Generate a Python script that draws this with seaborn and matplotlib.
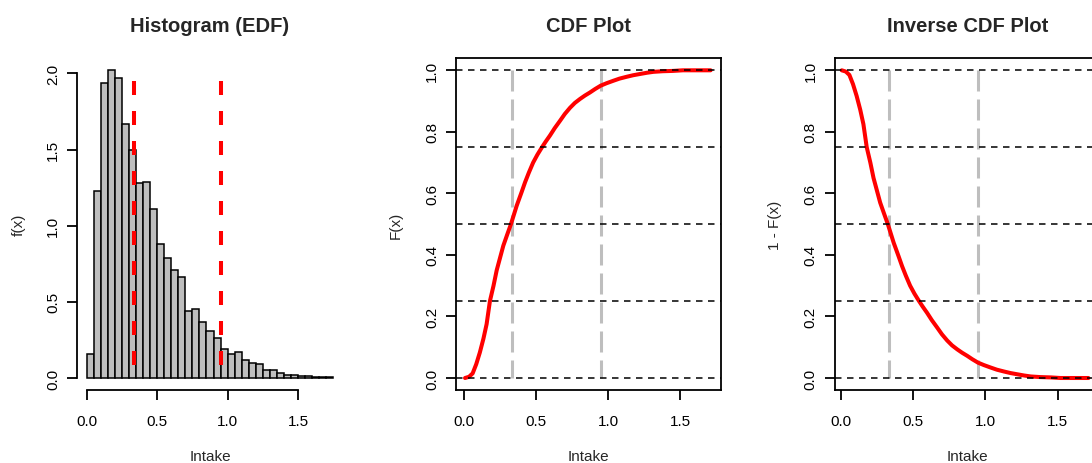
import numpy as np
import pandas as pd
import matplotlib
matplotlib.use("Agg")
import matplotlib.pyplot as plt
import seaborn as sns

# ---- data -------------------------------------------------------------
# density histogram of intake, bins of width 0.05 starting at 0
bin_start = 0.0
bin_width = 0.05
density = [0.16, 1.23, 1.94, 2.02, 1.97, 1.67, 1.50, 1.28, 1.29, 1.11,
           0.88, 0.79, 0.71, 0.66, 0.44, 0.45, 0.37, 0.31, 0.26, 0.19,
           0.16, 0.17, 0.12, 0.10, 0.09, 0.05, 0.05, 0.03, 0.02, 0.02,
           0.01, 0.01, 0.005, 0.004, 0.004]

# empirical cumulative distribution of intake
cdf_x = [0.007, 0.035, 0.06, 0.085, 0.11, 0.135, 0.157, 0.18, 0.205, 0.227,
         0.25, 0.273, 0.30, 0.326, 0.366, 0.40, 0.424, 0.45, 0.48, 0.51,
         0.539, 0.567, 0.597, 0.63, 0.667, 0.70, 0.736, 0.77, 0.806, 0.84,
         0.875, 0.91, 0.949, 0.99, 1.037, 1.08, 1.13, 1.175, 1.222, 1.27,
         1.315, 1.38, 1.45, 1.52, 1.60, 1.713]
cdf_y = [0.000, 0.004, 0.015, 0.045, 0.083, 0.128, 0.175, 0.25, 0.30, 0.35,
         0.39, 0.43, 0.466, 0.50, 0.56, 0.604, 0.636, 0.667, 0.70, 0.726,
         0.748, 0.768, 0.788, 0.812, 0.836, 0.858, 0.878, 0.894, 0.907, 0.918,
         0.928, 0.939, 0.95, 0.958, 0.966, 0.973, 0.979, 0.984, 0.988, 0.992,
         0.995, 0.997, 0.998, 1.0, 1.0, 1.0]

# reference quantiles of intake
median_intake = 0.335
p95_intake = 0.95
prob_levels = [0.0, 0.25, 0.5, 0.75, 1.0]

x_ticks = [0.0, 0.5, 1.0, 1.5]
x_tick_labels = ["0.0", "0.5", "1.0", "1.5"]
hist_y_ticks = [0.0, 0.5, 1.0, 1.5, 2.0]
hist_y_labels = ["0.0", "0.5", "1.0", "1.5", "2.0"]
prob_ticks = [0.0, 0.2, 0.4, 0.6, 0.8, 1.0]
prob_tick_labels = ["0.0", "0.2", "0.4", "0.6", "0.8", "1.0"]

# ---- style ------------------------------------------------------------
sns.set_theme(style="ticks")
plt.rcParams["font.family"] = ["Liberation Sans", "DejaVu Sans"]
plt.rcParams["lines.scale_dashes"] = False
plt.rcParams["axes.linewidth"] = 1.3

PX = 72 / 100  # points per pixel at 100 dpi
GREY = "#BEBEBE"

fig = plt.figure(figsize=(10.92, 4.64), dpi=100)
bottom = 73 / 464
height = 332 / 464
ax1 = fig.add_axes([77 / 1092, bottom, 266 / 1092, height])
ax2 = fig.add_axes([456 / 1092, bottom, 265 / 1092, height])
ax3 = fig.add_axes([834.7 / 1092, bottom, 265 / 1092, height])


def style_axes(ax, yticks, ylabels, ylabel, ylabel_x, title):
    ax.set_xticks(x_ticks, x_tick_labels)
    ax.set_yticks(yticks, ylabels, rotation=90, va="center")
    ax.tick_params(axis="both", direction="out", length=10 * PX, width=1.3,
                   color="black", labelsize=11, labelcolor="black")
    ax.tick_params(axis="x", pad=14 * PX)
    ax.tick_params(axis="y", pad=7 * PX)
    ax.set_xlabel("Intake", fontsize=11, va="center")
    ax.xaxis.set_label_coords(0.5, -0.198)
    ax.set_ylabel(ylabel, fontsize=11, va="center")
    ax.yaxis.set_label_coords(ylabel_x, 0.5)
    ax.set_title(title, fontsize=14.5, fontweight="bold", pad=27 * PX)
    for s in ax.spines.values():
        s.set_color("black")
        s.set_linewidth(1.3)


# ---- panel 1: histogram ----------------------------------------------
n_bins = len(density)
hist_df = pd.DataFrame({
    "intake": bin_start + bin_width * (np.arange(n_bins) + 0.5),
    "density": density,
})
sns.histplot(data=hist_df, x="intake", weights="density", stat="count",
             binwidth=bin_width, binrange=(bin_start, bin_start + n_bins * bin_width),
             color=GREY, edgecolor="black", linewidth=1.1, alpha=1.0, ax=ax1)
for q in (median_intake, p95_intake):
    ax1.plot([q, q], [1.95, 0.0], color="red", lw=2.9,
             dashes=(14 * PX, 16 * PX), solid_capstyle="butt",
             dash_capstyle="butt", zorder=4)
ax1.set_xlim(-0.07, 1.82)
ax1.set_ylim(-0.079, 2.101)
style_axes(ax1, hist_y_ticks, hist_y_labels, "f(x)", -0.218, "Histogram (EDF)")
ax1.spines["top"].set_visible(False)
ax1.spines["right"].set_visible(False)
ax1.spines["left"].set_bounds(0, 2)
ax1.spines["bottom"].set_bounds(0, 1.5)

# ---- panels 2 and 3: CDF and its complement -------------------------
surv_y = [1 - v for v in cdf_y]
for ax, yy, lab, lab_x, title, xlim in (
        (ax2, cdf_y, "F(x)", -0.227, "CDF Plot", (-0.0556, 1.785)),
        (ax3, surv_y, "1 - F(x)", -0.225, "Inverse CDF Plot", (-0.0415, 1.791))):
    sns.lineplot(x=cdf_x, y=yy, color="red", linewidth=2.9, ax=ax, zorder=2)
    for q in (median_intake, p95_intake):
        ax.plot([q, q], [1.0, 0.0], color=GREY, lw=2.2,
                dashes=(21 * PX, 8 * PX), dash_capstyle="butt", zorder=1.5)
    for lvl in prob_levels:
        ax.axhline(lvl, color="black", lw=1.1, dashes=(6.5 * PX, 5.5 * PX),
                   dash_capstyle="butt", zorder=3)
    ax.set_xlim(*xlim)
    ax.set_ylim(-0.039, 1.04)
    style_axes(ax, prob_ticks, prob_tick_labels, lab, lab_x, title)

fig.savefig("out.png", dpi=100)
